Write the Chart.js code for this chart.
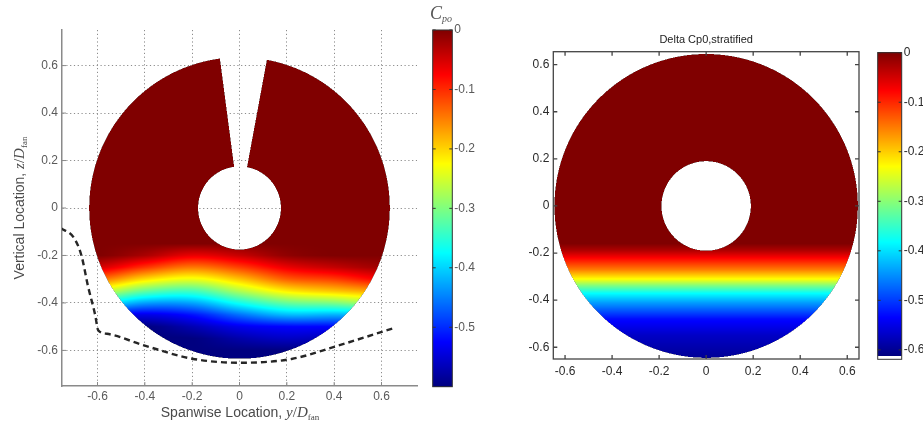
<!DOCTYPE html>
<html>
<head>
<meta charset="utf-8">
<script src="https://cdn.jsdelivr.net/npm/chart.js@4.4.0/dist/chart.umd.min.js"></script>
<style>
  html, body { margin: 0; padding: 0; background: #fff; }
  #wrap { position: relative; width: 923px; height: 425px; overflow: hidden; }
  .box { position: absolute; top: 0; height: 425px; }
  canvas { display: block; }
</style>
</head>
<body>
<div id="wrap">
  <div class="box" style="left:0;width:425px"><canvas id="leftChart"></canvas></div>
  <div class="box" style="left:425px;width:50px"><canvas id="leftBar"></canvas></div>
  <div class="box" style="left:470px;width:400px"><canvas id="rightChart"></canvas></div>
  <div class="box" style="left:870px;width:53px"><canvas id="rightBar"></canvas></div>
</div>
<script>
// --- Datos ---

// ejes (ambos paneles)
const axisTicks = [-0.6, -0.4, -0.2, 0, 0.2, 0.4, 0.6];
const axisLabels = ['-0.6', '-0.4', '-0.2', '0', '0.2', '0.4', '0.6'];

// barras de color
const leftBarTicks = [0, -0.1, -0.2, -0.3, -0.4, -0.5];
const leftBarLabels = ['0', '-0.1', '-0.2', '-0.3', '-0.4', '-0.5'];
const rightBarTicks = [0, -0.1, -0.2, -0.3, -0.4, -0.5, -0.6];
const rightBarLabels = ['0', '-0.1', '-0.2', '-0.3', '-0.4', '-0.5', '-0.6'];
const leftClim = [-0.6, 0];
const rightClim = [-0.612, 0];

// geometria del fan (radios en y/Dfan)
const leftRing = [0.175, 0.635];      // interior, exterior
const leftGapDeg = [79.5, 97.5];      // ranura superior
const rightRing = [0.19, 0.645];

// panel izquierdo: Cp0 medido, filas = z, columnas = y
const spanY = [-0.6, -0.4, -0.2, 0, 0.2, 0.4, 0.6];
const heightZ = [-0.1, -0.15, -0.2, -0.25, -0.3, -0.35, -0.4, -0.45, -0.5, -0.55, -0.6, -0.65];
const cpMeasured = [
  [0, 0, 0, 0, 0, 0, 0],
  [0, 0, 0, 0, 0, 0, 0],
  [0, -0.025, -0.062, -0.042, -0.01, 0, 0],
  [-0.05, -0.105, -0.145, -0.112, -0.064, -0.04, -0.02],
  [-0.14, -0.205, -0.235, -0.19, -0.13, -0.11, -0.075],
  [-0.25, -0.315, -0.335, -0.272, -0.215, -0.19, -0.17],
  [-0.375, -0.43, -0.428, -0.366, -0.315, -0.30, -0.27],
  [-0.525, -0.54, -0.516, -0.459, -0.415, -0.42, -0.415],
  [-0.6, -0.6, -0.57, -0.537, -0.525, -0.525, -0.525],
  [-0.6, -0.6, -0.6, -0.575, -0.56, -0.57, -0.57],
  [-0.6, -0.6, -0.6, -0.6, -0.6, -0.6, -0.6],
  [-0.6, -0.6, -0.6, -0.6, -0.6, -0.6, -0.6]
];

// linea discontinua (limite)
const dashSpanY = [-0.755, -0.70, -0.668, -0.64, -0.61, -0.597, -0.56, -0.40, -0.20, 0, 0.22, 0.40, 0.655];
const dashZ = [-0.085, -0.125, -0.20, -0.33, -0.45, -0.515, -0.53, -0.58, -0.635, -0.652, -0.636, -0.585, -0.505];

// panel derecho: perfil estratificado Cp0(z)
const strataZ = [0.66, -0.16, -0.19, -0.22, -0.27, -0.31, -0.34, -0.37, -0.41, -0.48, -0.55, -0.65];
const strataCp = [0, 0, -0.03, -0.075, -0.15, -0.23, -0.31, -0.38, -0.44, -0.53, -0.57, -0.6];

const FONT = "'Liberation Sans', Arial, sans-serif";
const SERIF = "'Liberation Serif', 'Times New Roman', serif";

// --- Utilidades ---
function clamp01(v) { return Math.max(0, Math.min(1, v)); }

function jet(t) {
  const r = clamp01(Math.min(4 * t - 1.5, -4 * t + 4.5));
  const g = clamp01(Math.min(4 * t - 0.5, -4 * t + 3.5));
  const b = clamp01(Math.min(4 * t + 0.5, -4 * t + 2.5));
  return [r * 255, g * 255, b * 255];
}

function findIdx(arr, v) {
  // arr monotono (creciente o decreciente)
  const n = arr.length;
  const asc = arr[n - 1] > arr[0];
  for (let i = 0; i < n - 1; i++) {
    const a = arr[i], b = arr[i + 1];
    if (asc ? (v <= b) : (v >= b)) return [i, clamp01((v - a) / (b - a))];
  }
  return [n - 2, 1];
}

function interp1(xs, ys, v) {
  if (xs[0] > xs[xs.length - 1] ? v >= xs[0] : v <= xs[0]) return ys[0];
  const [i, f] = findIdx(xs, v);
  return ys[i] + (ys[i + 1] - ys[i]) * f;
}

// Catmull-Rom a lo largo de una fila (suaviza la onda en y)
function rowAt(row, c, f) {
  const n = row.length;
  const p0 = row[Math.max(c - 1, 0)], p1 = row[c], p2 = row[c + 1], p3 = row[Math.min(c + 2, n - 1)];
  const f2 = f * f, f3 = f2 * f;
  return 0.5 * (2 * p1 + (-p0 + p2) * f + (2 * p0 - 5 * p1 + 4 * p2 - p3) * f2 + (-p0 + 3 * p1 - 3 * p2 + p3) * f3);
}

function leftValue(y, z) {
  const zc = Math.min(Math.max(z, heightZ[heightZ.length - 1]), heightZ[0]);
  const yc = Math.min(Math.max(y, spanY[0]), spanY[spanY.length - 1]);
  const [r, fr] = findIdx(heightZ, zc);
  const [c, fc] = findIdx(spanY, yc);
  const a = rowAt(cpMeasured[r], c, fc);
  const b = rowAt(cpMeasured[r + 1], c, fc);
  return Math.min(0, a + (b - a) * fr);
}

function leftInside(y, z) {
  const r = Math.hypot(y, z);
  if (r < leftRing[0] || r > leftRing[1]) return false;
  const ang = Math.atan2(z, y) * 180 / Math.PI;
  return !(ang > leftGapDeg[0] && ang < leftGapDeg[1]);
}

function rightInside(y, z) {
  const r = Math.hypot(y, z);
  return r >= rightRing[0] && r <= rightRing[1];
}

function rightValue(y, z) {
  return interp1(strataZ, strataCp, z);
}

// --- Plugins ---
const fieldPlugin = {
  id: 'field',
  beforeDatasetsDraw(chart, args, o) {
    if (!o.value) return;
    const { ctx, chartArea: a, scales } = chart;
    const x0 = Math.floor(a.left), y0 = Math.floor(a.top);
    const w = Math.ceil(a.right) - x0, h = Math.ceil(a.bottom) - y0;
    const img = ctx.getImageData(x0, y0, w, h);
    const d = img.data;
    const sub = [0.25, 0.75];
    for (let j = 0; j < h; j++) {
      for (let i = 0; i < w; i++) {
        let hit = 0;
        for (const sy of sub) {
          const v = scales.y.getValueForPixel(y0 + j + sy);
          for (const sx of sub) {
            const u = scales.x.getValueForPixel(x0 + i + sx);
            if (o.inside(u, v)) hit++;
          }
        }
        if (!hit) continue;
        const u = scales.x.getValueForPixel(x0 + i + 0.5);
        const v = scales.y.getValueForPixel(y0 + j + 0.5);
        const cp = o.value(u, v);
        const col = jet(clamp01((cp - o.clim[0]) / (o.clim[1] - o.clim[0])));
        const al = hit / 4;
        const k = (j * w + i) * 4;
        for (let c = 0; c < 3; c++) d[k + c] = d[k + c] * (1 - al) + col[c] * al;
        d[k + 3] = Math.max(d[k + 3], 255 * al);
      }
    }
    ctx.putImageData(img, x0, y0);
  }
};

const barPlugin = {
  id: 'colorbar',
  beforeDatasetsDraw(chart, args, o) {
    if (!o.clim) return;
    const { ctx, chartArea: a, scales } = chart;
    ctx.save();
    for (let py = Math.floor(a.top); py < Math.ceil(a.bottom); py++) {
      const v = scales.y.getValueForPixel(py + 0.5);
      if (v < o.clim[0]) { ctx.fillStyle = '#fff'; }
      else {
        const c = jet(clamp01((v - o.clim[0]) / (o.clim[1] - o.clim[0])));
        ctx.fillStyle = `rgb(${c[0] | 0},${c[1] | 0},${c[2] | 0})`;
      }
      ctx.fillRect(a.left, py, a.right - a.left, 1);
    }
    ctx.restore();
  }
};

const framePlugin = {
  id: 'frame',
  afterDatasetsDraw(chart, args, o) {
    if (!o.color) return;
    const { ctx, chartArea: a, scales } = chart;
    const len = o.len || 4;
    const sides = o.sides || [];
    ctx.save();
    ctx.strokeStyle = o.color;
    ctx.lineWidth = o.width || 1;
    if (o.box) ctx.strokeRect(a.left, a.top, a.right - a.left, a.bottom - a.top);
    ctx.beginPath();
    (o.xTicks || []).forEach(v => {
      const px = scales.x.getPixelForValue(v);
      if (sides.includes('bottom')) { ctx.moveTo(px, a.bottom); ctx.lineTo(px, a.bottom - len); }
      if (sides.includes('top')) { ctx.moveTo(px, a.top); ctx.lineTo(px, a.top + len); }
    });
    (o.yTicks || []).forEach(v => {
      const py = scales.y.getPixelForValue(v);
      if (sides.includes('left')) { ctx.moveTo(a.left, py); ctx.lineTo(a.left + len, py); }
      if (sides.includes('right')) { ctx.moveTo(a.right, py); ctx.lineTo(a.right - len, py); }
    });
    ctx.stroke();
    ctx.restore();
  }
};

const textPlugin = {
  id: 'texts',
  afterDraw(chart, args, o) {
    const ctx = chart.ctx;
    const a = chart.chartArea;
    (o.items || []).forEach(it => {
      ctx.save();
      const x = it.x === 'center' ? (a.left + a.right) / 2 : it.x;
      ctx.translate(x, it.y);
      if (it.rotate) ctx.rotate(it.rotate);
      ctx.fillStyle = it.color;
      ctx.textBaseline = 'alphabetic';
      ctx.textAlign = 'left';
      let total = 0;
      const widths = it.parts.map(p => { ctx.font = p.font; const wd = ctx.measureText(p.t).width; total += wd; return wd; });
      let cx = it.align === 'left' ? 0 : -total / 2;
      it.parts.forEach((p, i) => { ctx.font = p.font; ctx.fillText(p.t, cx, p.dy || 0); cx += widths[i]; });
      ctx.restore();
    });
  }
};

function fixedTicks(values) {
  return scale => { scale.ticks = values.map(v => ({ value: v })); };
}

// --- Panel izquierdo ---
const gray = '#5a5a5a';
new Chart(document.getElementById('leftChart'), {
  type: 'line',
  data: {
    datasets: [{
      data: dashSpanY.map((y, i) => ({ x: y, y: dashZ[i] })),
      borderColor: '#262626',
      borderWidth: 2.4,
      borderDash: [6, 4],
      pointRadius: 0,
      fill: false,
      cubicInterpolationMode: 'monotone'
    }]
  },
  options: {
    responsive: true,
    maintainAspectRatio: false,
    animation: false,
    layout: { padding: { left: 0, right: 8, top: 30, bottom: 0 } },
    plugins: {
      legend: { display: false },
      tooltip: { enabled: false },
      field: { value: leftValue, inside: leftInside, clim: leftClim },
      frame: { color: '#8a8a8a', width: 1, len: 4, sides: ['left', 'bottom'], xTicks: axisTicks, yTicks: axisTicks },
      texts: {
        items: [
          { x: 240, y: 417, color: '#4a4a4a', parts: [
            { t: 'Spanwise Location, ', font: `14px ${FONT}` },
            { t: 'y', font: `italic 15px ${SERIF}` },
            { t: '/', font: `15px ${SERIF}` },
            { t: 'D', font: `italic 15px ${SERIF}` },
            { t: 'fan', font: `9px ${SERIF}`, dy: 3 }
          ] },
          { x: 24, y: 208, rotate: -Math.PI / 2, color: '#4a4a4a', parts: [
            { t: 'Vertical Location, ', font: `14px ${FONT}` },
            { t: 'z', font: `italic 15px ${SERIF}` },
            { t: '/', font: `15px ${SERIF}` },
            { t: 'D', font: `italic 15px ${SERIF}` },
            { t: 'fan', font: `9px ${SERIF}`, dy: 3 }
          ] }
        ]
      }
    },
    scales: {
      x: {
        type: 'linear', min: -0.75, max: 0.75,
        afterBuildTicks: fixedTicks(axisTicks),
        afterFit: s => { s.height = 39; },
        ticks: { autoSkip: false, maxRotation: 0, padding: 3, color: gray, font: { family: FONT, size: 12 }, callback: (v, i) => axisLabels[i] },
        grid: { color: '#8c8c8c', lineWidth: 1, drawTicks: false },
        border: { color: '#8a8a8a', width: 1.5, dash: [1.2, 2.6] }
      },
      y: {
        type: 'linear', min: -0.75, max: 0.75,
        afterBuildTicks: fixedTicks(axisTicks),
        afterFit: s => { s.width = 62; },
        ticks: { autoSkip: false, padding: 4, color: gray, font: { family: FONT, size: 12 }, callback: (v, i) => axisLabels[i] },
        grid: { color: '#8c8c8c', lineWidth: 1, drawTicks: false },
        border: { color: '#8a8a8a', width: 1.5, dash: [1.2, 2.6] }
      }
    }
  },
  plugins: [fieldPlugin, framePlugin, textPlugin]
});

// --- Barras de color ---
function barChart(id, ticks, labels, min, clim, pad, axisW, labelColor, extraText) {
  return new Chart(document.getElementById(id), {
    type: 'scatter',
    data: { datasets: [] },
    options: {
      responsive: true,
      maintainAspectRatio: false,
      animation: false,
      layout: { padding: pad },
      plugins: {
        legend: { display: false },
        tooltip: { enabled: false },
        colorbar: { clim: clim },
        frame: { color: '#333', width: 1, box: true, len: 3, sides: ['left', 'right'], yTicks: ticks },
        texts: { items: extraText || [] }
      },
      scales: {
        x: { display: false, min: 0, max: 1 },
        y: {
          position: 'right', min: min, max: 0,
          afterBuildTicks: fixedTicks(ticks),
          afterFit: s => { s.width = axisW; },
          ticks: { autoSkip: false, padding: 2, color: labelColor, font: { family: FONT, size: 12 }, callback: (v, i) => labels[i] },
          grid: { display: false, drawTicks: false },
          border: { display: false }
        }
      }
    },
    plugins: [barPlugin, framePlugin, textPlugin]
  });
}

barChart('leftBar', leftBarTicks, leftBarLabels, leftClim[0], leftClim,
  { left: 7.7, right: 0, top: 30, bottom: 38.3 }, 22.7, gray,
  [{ x: 5, y: 19, align: 'left', color: '#555', parts: [
    { t: 'C', font: `italic 18px ${SERIF}` },
    { t: 'po', font: `italic 10px ${SERIF}`, dy: 3 }
  ] }]);

// --- Panel derecho ---
new Chart(document.getElementById('rightChart'), {
  type: 'scatter',
  data: { datasets: [] },
  options: {
    responsive: true,
    maintainAspectRatio: false,
    animation: false,
    layout: { padding: { left: 0, right: 11, top: 51.7, bottom: 0 } },
    plugins: {
      legend: { display: false },
      tooltip: { enabled: false },
      field: { value: rightValue, inside: rightInside, clim: rightClim },
      frame: { color: '#444', width: 1.3, box: true, len: 4, sides: ['left', 'right', 'top', 'bottom'], xTicks: axisTicks, yTicks: axisTicks },
      texts: {
        items: [{ x: 'center', y: 43, color: '#222', parts: [{ t: 'Delta Cp0,stratified', font: `11px ${FONT}` }] }]
      }
    },
    scales: {
      x: {
        type: 'linear', min: -0.65, max: 0.65,
        afterBuildTicks: fixedTicks(axisTicks),
        afterFit: s => { s.height = 66; },
        ticks: { autoSkip: false, maxRotation: 0, padding: 5, color: '#2a2a2a', font: { family: FONT, size: 12 }, callback: (v, i) => axisLabels[i] },
        grid: { display: false, drawTicks: false },
        border: { display: false }
      },
      y: {
        type: 'linear', min: -0.65, max: 0.655,
        afterBuildTicks: fixedTicks(axisTicks),
        afterFit: s => { s.width = 83.3; },
        ticks: { autoSkip: false, padding: 4, color: '#2a2a2a', font: { family: FONT, size: 12 }, callback: (v, i) => axisLabels[i] },
        grid: { display: false, drawTicks: false },
        border: { display: false }
      }
    }
  },
  plugins: [fieldPlugin, framePlugin, textPlugin]
});

barChart('rightBar', rightBarTicks, rightBarLabels, -0.619, rightClim,
  { left: 7.7, right: 0, top: 52.7, bottom: 65.7 }, 21.3, '#2a2a2a');
</script>
</body>
</html>
